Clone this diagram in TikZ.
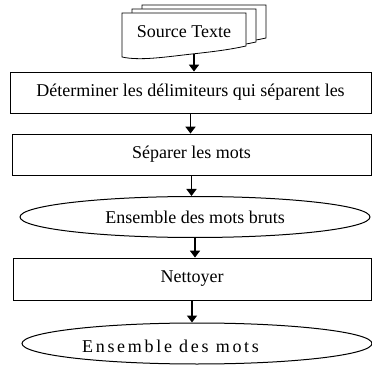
\documentclass[tikz,border=0pt]{standalone}
\usepackage{fontspec}
\setmainfont{Liberation Serif}
\usetikzlibrary{arrows.meta,shapes.geometric}

\tikzset{
  etape/.style={draw=black, line width=0.8pt, rectangle, inner sep=0pt, minimum height=41pt},
  ensemble/.style={draw=black, line width=1pt, ellipse, inner sep=0pt, minimum width=350pt, minimum height=41pt},
  flux/.style={-{Triangle[width=10pt,length=7pt]}, line width=1.8pt},
  feuille/.style={draw=black, line width=0.8pt, fill=white}
}

\begin{document}
\begin{tikzpicture}[x=1pt,y=-1pt,font=\fontsize{18}{20}\selectfont]
\useasboundingbox (0,0) rectangle (372,366);
% pile of source sheets, back to front
\foreach \dx/\dy in {20/-8,10/-4,0/0}
\draw[feuille,shift={(\dx,\dy)}] (122,13) -- (246,13) -- (246,46)
  .. controls (228,50) and (210,52) .. (192,54)
  .. controls (165,57) and (140,61) .. (122,57) -- cycle;
\node (source) at (184,32) {Source Texte};
\coordinate (srcbas) at (194,54);

% steps
\node[etape,minimum width=361pt] (det) at (190.5,92.5) {D\'eterminer les d\'elimiteurs qui s\'eparent les};
\node[etape,minimum width=359pt] (sep) at (191.5,154.5) {S\'eparer les mots};
\node[ensemble] (bruts) at (195,217) {Ensemble des mots bruts};
\node[etape,minimum width=358pt,minimum height=42pt] (net) at (192,279) {Nettoyer};
\node[ensemble,minimum height=41pt] (mots) at (197,343.5) {};
\node[font=\fontsize{18}{20}\selectfont\addfontfeature{LetterSpace=15}] (motstxt) at (170.5,346) {Ensemble des mots};

% arrows
\draw[flux] (srcbas) -- (srcbas |- det.north);
\draw[flux] (det.south) -- (det.south |- sep.north);
\draw[flux] (sep.south) -- (sep.south |- bruts.north);
\draw[flux] (bruts.south) -- (bruts.south |- net.north);
\draw[flux] (net.south) -- (net.south |- mots.north);
\end{tikzpicture}
\end{document}
